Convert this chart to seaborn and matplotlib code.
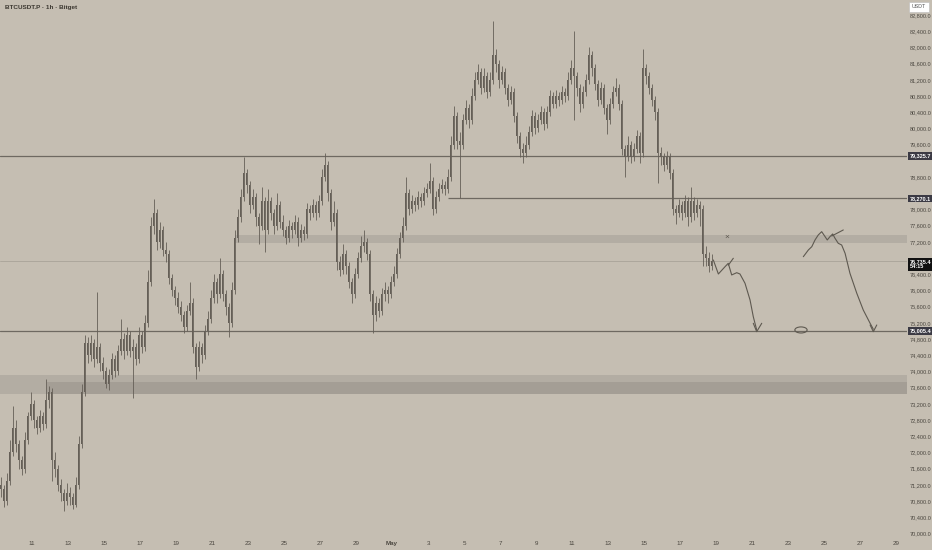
import numpy as np
import pandas as pd
import matplotlib
matplotlib.use('Agg')
import matplotlib.pyplot as plt
import matplotlib.dates as mdates
from matplotlib.patches import Ellipse
import seaborn as sns

# ------------------------------------------------------------------
# data: BTCUSDT.P, read off the chart as 4h candles (thousand USDT)
# ------------------------------------------------------------------
first_candle = '2026-04-09 04:00'
first_open = 71.2

close = [
    71.1, 70.8, 71.3, 72.0, 72.6, 72.2, 71.8, 71.6, 72.3, 72.9,
    73.2, 72.8, 72.6, 72.9, 72.7, 73.3, 73.5, 71.8, 71.6, 71.2,
    71.0, 70.8, 71.0, 70.9, 70.7, 71.2, 72.2, 73.5, 74.7, 74.4,
    74.7, 74.3, 74.6, 74.2, 74.0, 73.7, 73.9, 74.3, 74.0, 74.5,
    74.8, 74.5, 74.9, 74.5, 74.6, 74.3, 74.9, 74.6, 75.2, 76.2,
    77.6, 77.9, 77.2, 77.5, 77.0, 76.9, 76.3, 76.0, 75.8, 75.6,
    75.4, 75.1, 75.5, 75.7, 74.6, 74.1, 74.6, 74.4, 75.0, 75.3,
    75.8, 76.2, 75.9, 76.4, 75.9, 75.6, 75.2, 76.0, 77.3, 77.8,
    78.3, 78.9, 78.6, 78.1, 78.3, 77.8, 77.6, 78.2, 77.5, 78.2,
    77.9, 77.6, 78.1, 77.7, 77.5, 77.3, 77.6, 77.5, 77.7, 77.3,
    77.5, 77.4, 78.0, 77.9, 78.1, 77.9, 78.2, 78.8, 79.1, 78.4,
    77.7, 77.9, 76.7, 76.5, 76.9, 76.6, 76.2, 75.9, 76.4, 76.8,
    77.1, 77.2, 76.9, 75.9, 75.4, 75.7, 75.5, 75.9, 76.0, 75.9,
    76.2, 76.4, 76.9, 77.3, 77.6, 78.4, 78.0, 78.2, 78.1, 78.3,
    78.2, 78.4, 78.5, 78.7, 78.0, 78.3, 78.5, 78.6, 78.5, 78.8,
    79.6, 80.3, 79.7, 79.6, 80.2, 80.5, 80.2, 80.8, 81.2, 81.4,
    81.0, 81.3, 80.9, 81.2, 81.8, 81.6, 81.2, 81.4, 81.0, 80.7,
    80.9, 80.3, 79.8, 79.5, 79.4, 79.6, 79.9, 80.3, 80.0, 80.2,
    80.4, 80.1, 80.4, 80.8, 80.6, 80.8, 80.7, 80.9, 80.8, 81.2,
    81.5, 81.3, 81.0, 80.6, 80.9, 81.2, 81.8, 81.5, 81.1, 80.7,
    81.0, 80.5, 80.2, 80.6, 80.9, 81.0, 80.6, 79.5, 79.3, 79.6,
    79.3, 79.5, 79.8, 79.4, 81.5, 81.3, 81.0, 80.7, 80.4, 79.4,
    79.3, 79.1, 79.3, 78.9, 78.0, 77.9, 78.1, 77.9, 78.2, 77.8,
    78.2, 77.9, 78.1, 78.0, 76.9, 76.8, 76.6, 76.735,
]

high = [
    71.4, 71.2, 71.5, 72.3, 73.15, 72.8, 72.3, 71.9, 72.5, 73.0,
    73.5, 73.3, 72.9, 73.05, 73.0, 73.8, 73.65, 73.6, 72.0, 71.7,
    71.35, 71.1, 71.25, 71.15, 71.0, 71.4, 72.4, 73.7, 74.9, 74.85,
    74.9, 74.8, 75.95, 74.7, 74.35, 74.1, 74.05, 74.45, 74.4, 74.65,
    75.3, 74.95, 75.1, 75.0, 74.8, 74.7, 75.1, 75.0, 75.4, 76.5,
    77.8, 78.25, 78.0, 77.7, 77.6, 77.2, 77.0, 76.4, 76.1, 75.95,
    75.75, 75.5, 75.65, 76.2, 75.8, 74.7, 74.75, 74.7, 75.15, 75.5,
    76.0, 76.4, 76.3, 76.8, 76.5, 76.0, 75.7, 76.2, 77.5, 78.0,
    78.5, 79.3, 79.0, 78.7, 78.5, 78.4, 77.9, 78.55, 78.3, 78.5,
    78.3, 78.0, 78.4, 78.2, 77.85, 77.6, 77.75, 77.7, 77.85, 77.8,
    77.65, 77.6, 78.15, 78.1, 78.25, 78.2, 78.35, 79.0, 79.4, 79.2,
    78.5, 78.2, 78.0, 76.85, 77.15, 77.0, 76.7, 76.3, 76.55, 76.95,
    77.35, 77.5, 77.3, 77.0, 76.0, 75.85, 75.8, 76.05, 76.2, 76.1,
    76.35, 76.6, 77.05, 77.45, 77.8, 78.8, 78.5, 78.35, 78.3, 78.45,
    78.4, 78.55, 78.65, 79.15, 78.8, 78.45, 78.65, 78.75, 78.7, 79.0,
    79.8, 80.55, 80.4, 79.9, 80.35, 80.7, 80.6, 81.0, 81.4, 81.6,
    81.5, 81.5, 81.4, 81.4, 82.65, 81.95, 81.7, 81.55, 81.5, 81.1,
    81.05, 81.0, 80.4, 79.9, 79.65, 79.8, 80.05, 80.45, 80.4, 80.35,
    80.55, 80.5, 80.55, 80.95, 80.9, 80.95, 80.9, 81.05, 81.0, 81.4,
    81.7, 82.4, 81.4, 81.1, 81.05, 81.35, 82.0, 81.9, 81.6, 81.2,
    81.15, 81.1, 80.6, 80.75, 81.05, 81.25, 81.1, 80.7, 79.6, 79.8,
    79.7, 79.65, 79.95, 79.9, 81.95, 81.6, 81.4, 81.1, 80.8, 80.5,
    79.55, 79.4, 79.45, 79.4, 79.0, 78.1, 78.25, 78.2, 78.35, 78.3,
    78.55, 78.3, 78.25, 78.2, 78.1, 77.1, 76.95, 76.9,
]

low = [
    70.9, 70.65, 70.7, 71.2, 71.9, 72.0, 71.6, 71.45, 71.5, 72.2,
    72.8, 72.6, 72.45, 72.5, 72.55, 72.6, 73.1, 71.3, 71.4, 71.05,
    70.8, 70.55, 70.7, 70.7, 70.6, 70.65, 71.1, 72.1, 73.4, 74.2,
    74.25, 74.1, 74.2, 74.0, 73.8, 73.6, 73.55, 73.8, 73.85, 73.9,
    74.4, 74.3, 74.4, 74.35, 73.35, 74.15, 74.2, 74.45, 74.5, 75.1,
    76.1, 77.4, 77.0, 77.05, 76.85, 76.7, 76.15, 75.85, 75.65, 75.45,
    75.25, 74.95, 75.0, 75.4, 74.45, 73.8, 74.0, 74.2, 74.3, 74.9,
    75.2, 75.7, 75.7, 75.8, 75.75, 75.4, 74.85, 75.1, 75.9, 77.2,
    77.7, 78.2, 78.4, 77.9, 78.0, 77.6, 77.15, 77.5, 76.95, 77.4,
    77.75, 77.4, 77.5, 77.55, 77.35, 77.15, 77.2, 77.3, 77.4, 77.1,
    77.2, 77.25, 77.3, 77.75, 77.8, 77.75, 77.8, 78.1, 78.7, 78.2,
    77.5, 77.6, 76.5, 76.35, 76.4, 76.4, 76.05, 75.7, 75.8, 76.3,
    76.7, 76.95, 76.75, 75.75, 74.95, 75.25, 75.35, 75.4, 75.75, 75.7,
    75.8, 76.1, 76.3, 76.8, 77.2, 77.5, 77.85, 77.9, 77.95, 78.0,
    78.05, 78.1, 78.3, 78.4, 77.85, 77.9, 78.2, 78.4, 78.35, 78.4,
    78.7, 79.5, 79.5, 78.27, 79.5, 80.1, 80.0, 80.1, 80.7, 81.1,
    80.85, 80.9, 80.75, 80.8, 81.1, 81.4, 81.0, 81.1, 80.85, 80.55,
    80.6, 80.15, 79.65, 79.3, 79.15, 79.3, 79.5, 79.8, 79.85, 79.9,
    80.1, 79.95, 80.0, 80.3, 80.5, 80.5, 80.55, 80.6, 80.65, 80.7,
    81.1, 80.2, 80.8, 80.4, 80.5, 80.8, 81.1, 81.3, 80.95, 80.55,
    80.6, 80.35, 79.85, 80.1, 80.5, 80.8, 80.45, 79.35, 78.8, 79.2,
    79.15, 79.2, 79.4, 79.15, 79.3, 81.1, 80.85, 80.55, 80.2, 78.65,
    79.1, 78.95, 79.0, 78.75, 77.85, 77.65, 77.8, 77.75, 77.8, 77.6,
    77.7, 77.75, 77.8, 77.6, 76.6, 76.6, 76.45, 76.5,
]

# horizontal levels and zones (USDT)
level_top = 79325.7
level_mid = 78270.1
level_mid_from = '2026-05-04 02:40'
level_low = 75005.4
last_price = 76735.4
countdown = '54:15'
zone_upper = (77170, 77370)
zone_upper_from = '2026-04-22 06:40'
zone_lower = (73430, 73920)
zone_lower_core = (73430, 73740)
zone_lower_core_from = '2026-04-11 20:00'

# hand drawn projections: days after May 1st, price
path_a_days = [17.85, 18.13, 18.50, 18.68, 18.87, 19.15, 19.33, 19.61, 19.89, 20.07, 20.26]
path_a_price = [76751, 76405, 76585, 76669, 76381, 76437, 76405, 76176, 75763, 75351, 75023]
tick_a_days = [18.68, 18.96]
tick_a_price = [76620, 76793]
arrow_a_days = [20.07, 20.26, 20.54]
arrow_a_price = [75188, 74981, 75188]

path_c_days = [22.85, 23.13, 23.32, 23.50, 23.68, 23.87, 24.06, 24.18, 24.33, 24.48,
               24.61, 24.79, 24.98, 25.17, 25.44, 25.82, 26.18, 26.56, 26.74]
path_c_price = [76832, 76998, 77079, 77245, 77368, 77450, 77326, 77245, 77326, 77393,
                77287, 77163, 77121, 76916, 76423, 75929, 75516, 75188, 75040]
tick_c_days = [24.43, 25.07]
tick_c_price = [77343, 77492]
arrow_c_days = [26.56, 26.74, 26.93]
arrow_c_price = [75146, 74981, 75146]
circle_day, circle_price = 22.72, 75023
x_mark_day, x_mark_price = 18.61, 77319

day_labels = ['11', '13', '15', '17', '19', '21', '23', '25', '27', '29', 'May',
              '3', '5', '7', '9', '11', '13', '15', '17', '19', '21', '23', '25', '27', '29']
day_ticks = (['2026-04-%02d' % d for d in range(11, 30, 2)] + ['2026-05-01'] +
             ['2026-05-%02d' % d for d in range(3, 30, 2)])

# ------------------------------------------------------------------
# style
# ------------------------------------------------------------------
BG = '#c5beb2'
CANDLE = '#655f57'
LINE = '#6e6961'
ZONE = '#b3ada3'
ZONE_CORE = '#a49e95'
TXT = '#4a463f'
PEN = '#5e5950'

sns.set_theme(style='white', rc={'axes.facecolor': BG, 'figure.facecolor': BG})
plt.rcParams['font.family'] = ['Liberation Sans', 'DejaVu Sans']

fig = plt.figure(figsize=(9.32, 5.5), dpi=100)
ax = fig.add_axes([0, 13 / 550, 907 / 932, 537 / 550])

o = np.array([first_open] + close[:-1]) * 1000
c = np.array(close) * 1000
h = np.array(high) * 1000
l = np.array(low) * 1000
t = pd.date_range(first_candle, periods=len(close), freq='4h') + pd.Timedelta(hours=2)
x = mdates.date2num(t)

may1 = mdates.date2num(pd.Timestamp('2026-05-01'))
xmin = may1 - 21.78
xmax = may1 + 28.61
ax.set_xlim(xmin, xmax)
ax.set_ylim(69911, 83170)

# zones
ax.fill_between([xmin, xmax], *zone_lower, color=ZONE, lw=0, zorder=1)
ax.fill_between([mdates.date2num(pd.Timestamp(zone_lower_core_from)), xmax], *zone_lower_core,
                color=ZONE_CORE, lw=0, zorder=1)
ax.fill_between([mdates.date2num(pd.Timestamp(zone_upper_from)), xmax], *zone_upper,
                color=ZONE, lw=0, zorder=1)

# levels
ax.axhline(level_top, color=LINE, lw=0.9, zorder=2)
ax.axhline(level_low, color=LINE, lw=0.9, zorder=2)
ax.hlines(level_mid, mdates.date2num(pd.Timestamp(level_mid_from)), xmax, color=LINE, lw=0.9, zorder=2)
ax.axhline(last_price, color='#a9a398', lw=0.6, zorder=2)

# candles
body_lo = np.minimum(o, c)
body_h = np.maximum(np.abs(c - o), 15)
ax.vlines(x, l, h, color=CANDLE, lw=0.6, zorder=3)
ax.bar(x, body_h, bottom=body_lo, width=0.1, color=CANDLE, lw=0, zorder=3)

# drawings
def draw(days, price):
    sns.lineplot(x=may1 + np.array(days), y=price, ax=ax, color=PEN, lw=0.8,
                 sort=False, estimator=None, zorder=4)

draw(path_a_days, path_a_price)
draw(tick_a_days, tick_a_price)
draw(arrow_a_days, arrow_a_price)
draw(path_c_days, path_c_price)
draw(tick_c_days, tick_c_price)
draw(arrow_c_days, arrow_c_price)
ax.add_patch(Ellipse((may1 + circle_day, circle_price), 0.68, 150, fill=False,
                     ec=PEN, lw=0.8, zorder=4))
ax.text(may1 + x_mark_day, x_mark_price, '×', fontsize=6, color=PEN,
        ha='center', va='center', zorder=4)

# axes
tags = [level_top, level_mid, level_low, last_price]
ax.set_xticks([mdates.date2num(pd.Timestamp(d)) for d in day_ticks])
ax.set_xticklabels(day_labels)
yt = np.arange(70000, 82801, 400)
ax.set_yticks(yt)
# labels hidden under a price tag are left blank
ax.set_yticklabels(['' if min(abs(v - g) for g in tags) < 150 else f'{v:,.1f}' for v in yt])
ax.yaxis.tick_right()
ax.tick_params(axis='y', length=0, pad=2, labelsize=4, labelcolor=TXT)
ax.tick_params(axis='x', length=0, pad=3, labelsize=4.5, labelcolor=TXT)
for lab in ax.get_xticklabels():
    if lab.get_text() == 'May':
        lab.set_fontweight('bold')
for s in ax.spines.values():
    s.set_visible(False)
ax.grid(False)
ax.set_xlabel('')
ax.set_ylabel('')

# price tags on the scale
tr = ax.get_yaxis_transform()
for val in [level_top, level_mid, level_low]:
    ax.text(1.003, val, f'{val:,.1f}', transform=tr, fontsize=4, color='white',
            fontweight='bold', va='center', ha='left', zorder=6,
            bbox=dict(boxstyle='square,pad=0.25', fc='#3b3a44', ec='none'))
ax.text(1.003, last_price - 90, f'{last_price:,.1f}\n{countdown}', transform=tr, fontsize=4,
        color='white', fontweight='bold', va='center', ha='left', linespacing=1.1, zorder=6,
        bbox=dict(boxstyle='square,pad=0.25', fc='#111111', ec='none'))

fig.text(5 / 932, 1 - 7 / 550, 'BTCUSDT.P · 1h · Bitget', fontsize=4.6, fontweight='bold',
         color='#3d3932', va='center', ha='left')
fig.text(919 / 932, 1 - 7 / 550, 'USDT', fontsize=3.8, color='#555', va='center', ha='center',
         bbox=dict(boxstyle='square,pad=0.5', fc='white', ec='#bbbbbb', lw=0.4))

fig.savefig('out.png', dpi=100, facecolor=BG)
